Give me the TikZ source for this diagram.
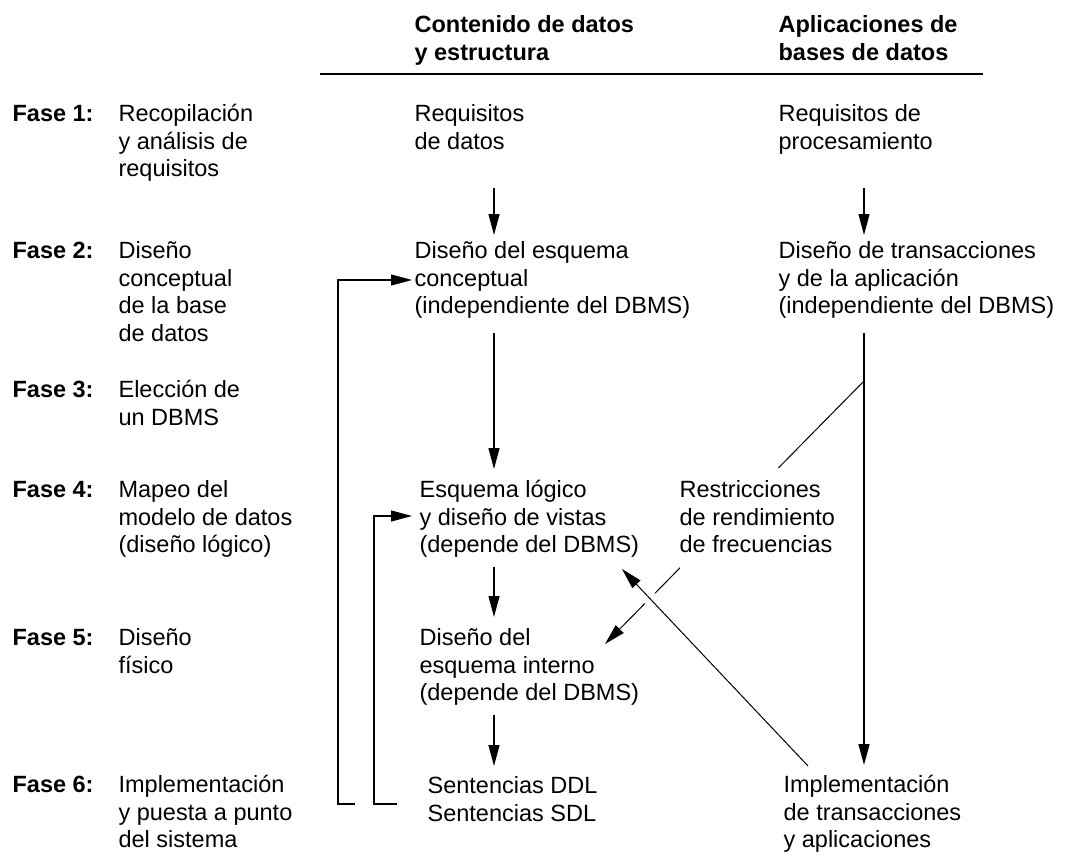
\documentclass[tikz,border=0pt]{standalone}
\usepackage{fontspec}
\setmainfont{Liberation Sans}
\usetikzlibrary{arrows.meta,calc}
\newcommand{\fsz}{\fontsize{23.5}{27.5}\selectfont}
\begin{document}
\begin{tikzpicture}[x=1pt,y=-1pt, line width=1.2pt,
  >={Triangle[length=21pt,width=11pt]},
  txt/.style={anchor=north west, align=left, inner sep=0pt, yshift=19.25pt, font=\fsz},
  hdr/.style={txt, font=\fsz\bfseries},
  conn/.style={line width=1.2pt},
  thin/.style={line width=1pt}]
\useasboundingbox (0,0) rectangle (1068,856);

% headers
\node[hdr] (h1) at (414,32) {\strut Contenido de datos\\y estructura};
\node[hdr] (h2) at (778,32) {\strut Aplicaciones de\\bases de datos};
\coordinate (l1) at (320,74);
\coordinate (l2) at (983,74);
\draw[line width=1.3pt] (l1) -- (l2);

% phases
\node[hdr] (f1) at (12,121) {\strut Fase 1:};
\node[txt] (p1) at (118,121) {\strut Recopilación\\y análisis de\\requisitos};
\node[hdr] (f2) at (12,258) {\strut Fase 2:};
\node[txt] (p2) at (118,258) {\strut Diseño\\conceptual\\de la base\\de datos};
\node[hdr] (f3) at (12,397) {\strut Fase 3:};
\node[txt] (p3) at (118,397) {\strut Elección de\\un DBMS};
\node[hdr] (f4) at (12,497) {\strut Fase 4:};
\node[txt] (p4) at (118,497) {\strut Mapeo del\\modelo de datos\\(diseño lógico)};
\node[hdr] (f5) at (12,645) {\strut Fase 5:};
\node[txt] (p5) at (118,645) {\strut Diseño\\físico};
\node[hdr] (f6) at (12,792) {\strut Fase 6:};
\node[txt] (p6) at (118,792) {\strut Implementación\\y puesta a punto\\del sistema};

% middle column
\node[txt] (req1) at (414,121) {\strut Requisitos\\de datos};
\node[txt] (dis1) at (414,258) {\strut Diseño del esquema\\conceptual\\(independiente del DBMS)};
\node[txt] (esq) at (419,497) {\strut Esquema lógico\\y diseño de vistas\\(depende del DBMS)};
\node[txt] (din) at (419,645) {\strut Diseño del\\esquema interno\\(depende del DBMS)};
\node[txt] (sen) at (427,793) {\strut Sentencias DDL\\Sentencias SDL};

% right column
\node[txt] (req2) at (778,121) {\strut Requisitos de\\procesamiento};
\node[txt] (dis2) at (778,258) {\strut Diseño de transacciones\\y de la aplicación\\(independiente del DBMS)};
\node[txt] (impl) at (783,792) {\strut Implementación\\de transacciones\\y aplicaciones};

% connector coordinates
\coordinate (a1s) at (494,188); \coordinate (a1e) at (494,235);
\coordinate (a2s) at (864,188); \coordinate (a2e) at (864,235);
\coordinate (a3s) at (494,333); \coordinate (a3e) at (494,469);
\coordinate (a4s) at (494,567); \coordinate (a4e) at (494,617);
\coordinate (a5s) at (494,715); \coordinate (a5e) at (494,766);
\coordinate (rs) at (864,333);  \coordinate (re) at (864,765);
\coordinate (j) at (864,381);   \coordinate (ptip) at (605,644);
\coordinate (ds) at (808,766);  \coordinate (dtip) at (622,569);
\coordinate (b1a) at (355,804); \coordinate (b1c) at (338,280); \coordinate (b1e) at (412,280);
\coordinate (b2a) at (397,804); \coordinate (b2c) at (374,516); \coordinate (b2e) at (412,516);

\draw[conn,->] (a1s) -- (a1e);
\draw[conn,->] (a2s) -- (a2e);
\draw[conn,->] (a3s) -- (a3e);
\draw[conn,->] (a4s) -- (a4e);
\draw[conn,->] (a5s) -- (a5e);
\draw[conn,->] (rs) -- (re);

% constraint line, partly hidden by its label
\draw[thin,->] (j) -- (ptip);
\node[txt, fill=white, inner xsep=0pt, inner ysep=10pt, yshift=10pt] (res) at (679,497)
  {\strut Restricciones\\de rendimiento\\de frecuencias\strut};

% gap where the long diagonal crosses
\draw[white, line width=14pt] ($(ds)!0.8!(dtip)$) -- ($(ds)!0.9!(dtip)$);
\draw[thin,->] (ds) -- (dtip);

% feedback brackets
\draw[conn,->] (b1a) -| (b1c) -- (b1e);
\draw[conn,->] (b2a) -| (b2c) -- (b2e);
\end{tikzpicture}
\end{document}
